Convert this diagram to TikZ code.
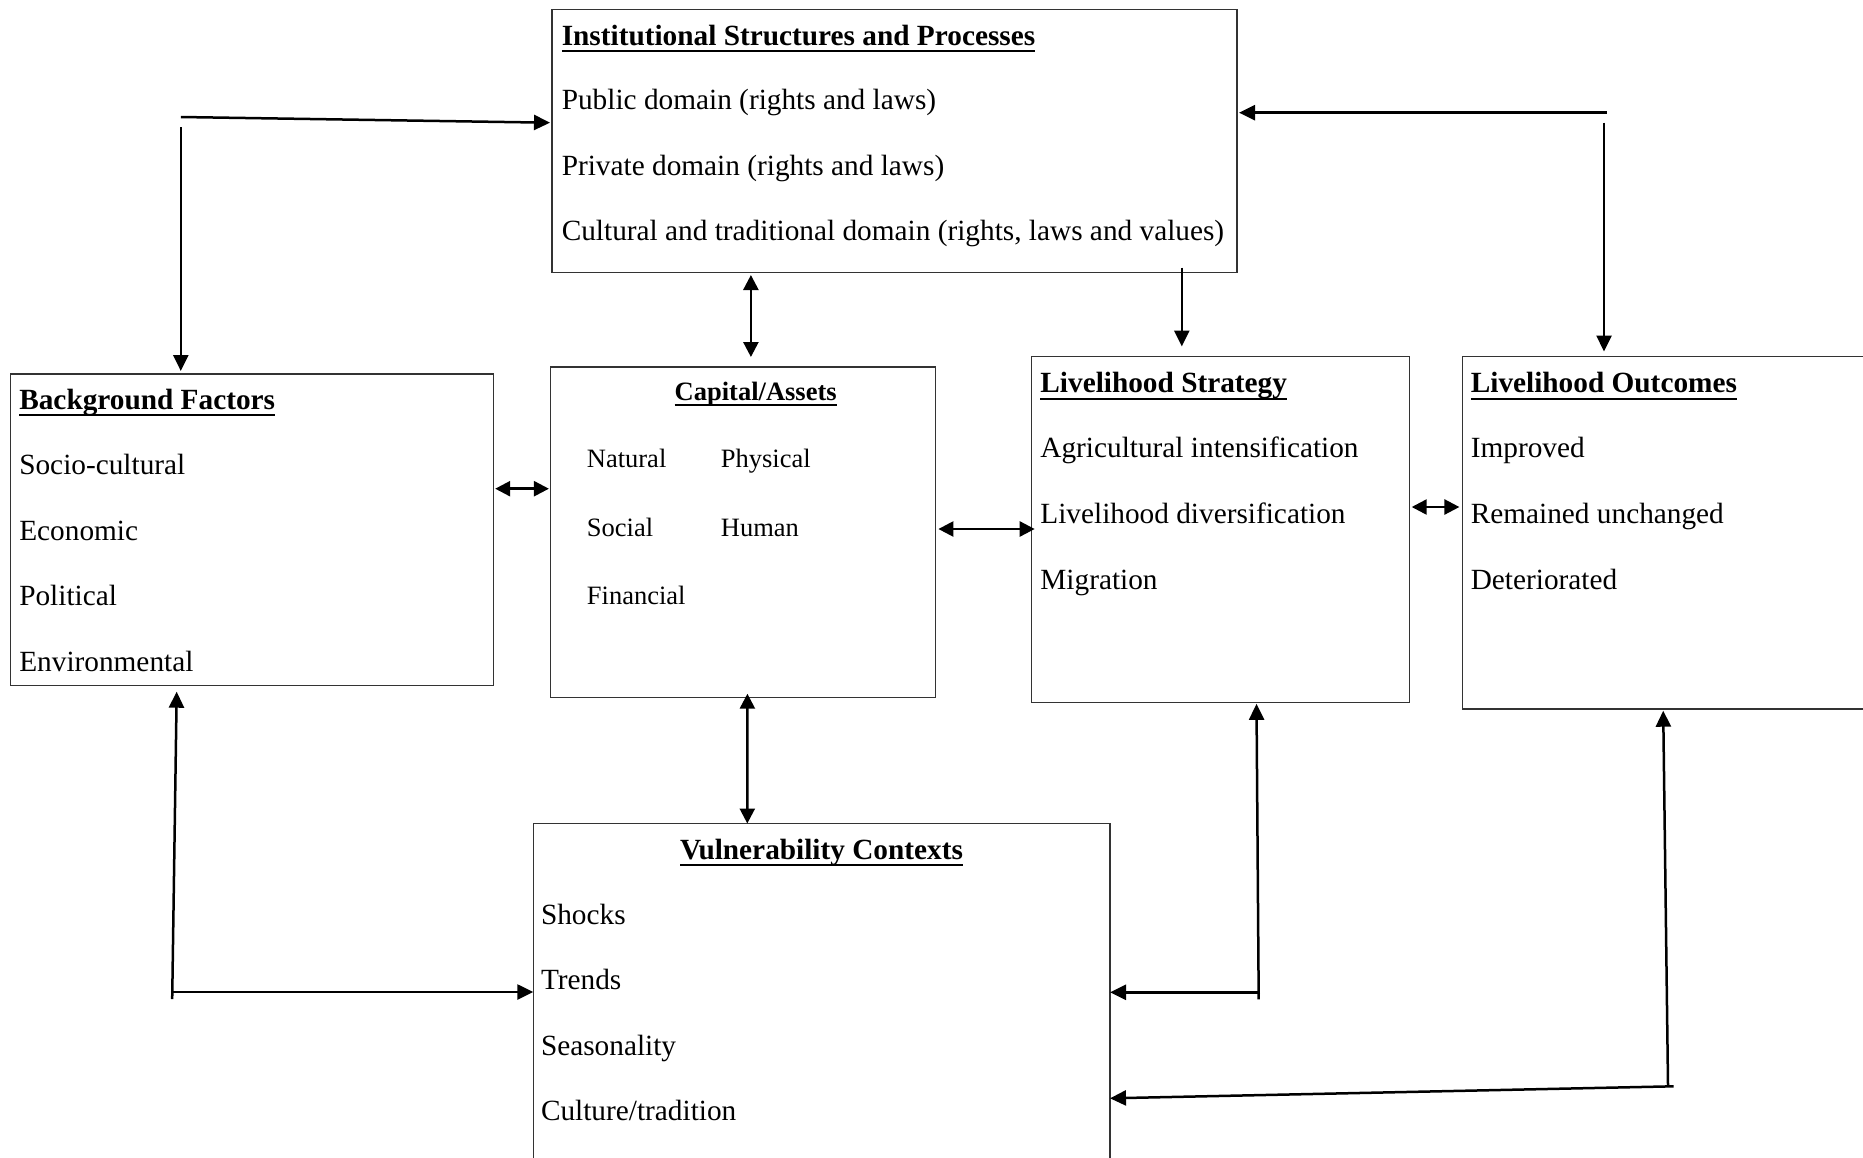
\documentclass[tikz,border=0pt]{standalone}
\usepackage{fontspec}
\setmainfont{Liberation Serif}
\usetikzlibrary{arrows.meta,calc}
\newcommand\ttlline[1]{\setbox0\hbox{\bfseries #1}\rlap{\rule[-0.24em]{\wd0}{0.075em}}\box0}
\begin{document}
\begin{tikzpicture}[x=1pt,y=-1pt,
  box/.style={draw=black!80, line width=1.2pt, rectangle, inner sep=0pt, outer sep=0pt, anchor=north west},
  txt/.style={anchor=base west, inner sep=0pt, font=\fontsize{29.3}{35}\selectfont},
  ctxt/.style={anchor=base, inner sep=0pt, font=\fontsize{29.3}{35}\selectfont},
  smalltxt/.style={anchor=base west, inner sep=0pt, font=\fontsize{26.5}{32}\selectfont},
  csmalltxt/.style={anchor=base, inner sep=0pt, font=\fontsize{26.5}{32}\selectfont},
  arr/.style={line width=2.5pt, -{Triangle[length=16pt,width=15pt]}},
  darr/.style={line width=2.5pt, {Triangle[length=15pt,width=15pt]}-{Triangle[length=15pt,width=15pt]}}]
\useasboundingbox (0,0) rectangle (1863,1157);
\clip (0,0) rectangle (1863,1157);
\fill[white] (0,0) rectangle (1863,1157);

% boxes
\node[box, minimum width=685pt, minimum height=263pt] (inst) at (552,9.5) {};
\node[box, minimum width=482.5pt, minimum height=311.7pt] (bg) at (10.7,374) {};
\node[box, minimum width=385pt, minimum height=330.7pt] (cap) at (550.4,367) {};
\node[box, minimum width=378.5pt, minimum height=345.8pt] (strat) at (1031.2,356.5) {};
\node[box, minimum width=450pt, minimum height=352.5pt] (out) at (1462.4,356.5) {};
\node[box, minimum width=576.7pt, minimum height=400pt] (vul) at (533.3,823.5) {};

% institutional
\node[txt] (instT) at (561.6,45) {\ttlline{Institutional Structures and Processes}};
\node[txt] (inst1) at (561.6,109.5) {Public domain (rights and laws)};
\node[txt] (inst2) at (561.6,175) {Private domain (rights and laws)};
\node[txt] (inst3) at (561.6,240.5) {Cultural and traditional domain (rights, laws and values)};

% background
\node[txt] (bgT) at (19.1,409.3) {\ttlline{Background Factors}};
\node[txt] (bg1) at (19.1,474.3) {Socio-cultural};
\node[txt] (bg2) at (19.1,540) {Economic};
\node[txt] (bg3) at (19.1,605.3) {Political};
\node[txt] (bg4) at (19.1,671) {Environmental};

% capital
\node[csmalltxt] (capT) at (755.7,400) {\ttlline{Capital/Assets}};
\node[smalltxt] (cap1) at (586.7,467.7) {Natural};
\node[smalltxt] (cap2) at (720.7,467.7) {Physical};
\node[smalltxt] (cap3) at (586.7,536) {Social};
\node[smalltxt] (cap4) at (720.7,536) {Human};
\node[smalltxt] (cap5) at (586.7,604.3) {Financial};

% strategy
\node[txt] (stT) at (1040.2,392.7) {\ttlline{Livelihood Strategy}};
\node[txt] (st1) at (1040.2,457.7) {Agricultural intensification};
\node[txt] (st2) at (1040.2,523.2) {Livelihood diversification};
\node[txt] (st3) at (1040.2,589.3) {Migration};

% outcomes
\node[txt] (ouT) at (1470.6,392.7) {\ttlline{Livelihood Outcomes}};
\node[txt] (ou1) at (1470.6,457.7) {Improved};
\node[txt] (ou2) at (1470.6,523.2) {Remained unchanged};
\node[txt] (ou3) at (1470.6,589.3) {Deteriorated};

% vulnerability
\node[ctxt] (vuT) at (821.5,859.3) {\ttlline{Vulnerability Contexts}};
\node[txt] (vu1) at (540.8,924.3) {Shocks};
\node[txt] (vu2) at (540.8,989.3) {Trends};
\node[txt] (vu3) at (540.8,1055) {Seasonality};
\node[txt] (vu4) at (540.8,1120.3) {Culture/tradition};

% free ends
\coordinate (tlh) at (180.8,117);
\coordinate (tlv) at (180.8,127);
\coordinate (trh) at (1606.8,112.7);
\coordinate (trv) at (1604,122.7);
\coordinate (isd) at (1181.8,267.7);
\coordinate (blc) at (172.2,999);
\coordinate (blh) at (170.9,992);
\coordinate (bmc) at (1258.7,999.3);
\coordinate (bmh) at (1260,992.3);
\coordinate (brc) at (1668,1085);
\coordinate (brh) at (1673.6,1086.3);

% connectors
\draw[arr] (tlh) -- ($(inst.north west)+(-2,113.2)$);
\draw[arr] (tlv) -- ($(bg.north west)+(170.1,-3)$);
\draw[arr] (trh) -- ($(inst.north east)+(2,103.2)$);
\draw[arr] (trv) -- ($(out.north west)+(141.6,-5)$);
\draw[arr] (isd) -- ($(strat.north west)+(150.6,-10)$);
\draw[darr] ($(inst.south west)+(198.9,2.5)$) -- ($(cap.north west)+(200.5,-10)$);
\draw[darr] ($(bg.north east)+(2,114.7)$) -- ($(cap.north west)+(-1.5,121.7)$);
\draw[darr] ($(cap.north east)+(3,162)$) -- ($(strat.north west)+(3.5,172.5)$);
\draw[darr] ($(strat.north east)+(2,150.5)$) -- ($(out.north west)+(-3,150.5)$);
\draw[darr] ($(cap.south west)+(197,-4)$) -- ($(vul.north west)+(214,0)$);
\draw[arr] (blc) -- ($(bg.south west)+(166,6)$);
\draw[arr] (blh) -- (blh -| vul.west);
\draw[arr] (bmc) -- ($(strat.south west)+(225.3,1.5)$);
\draw[arr] (bmh) -- (bmh -| vul.east);
\draw[arr] (brc) -- ($(out.south west)+(200.8,1.7)$);
\draw[arr] (brh) -- ($(vul.north east)+(0,274.8)$);
\end{tikzpicture}
\end{document}
